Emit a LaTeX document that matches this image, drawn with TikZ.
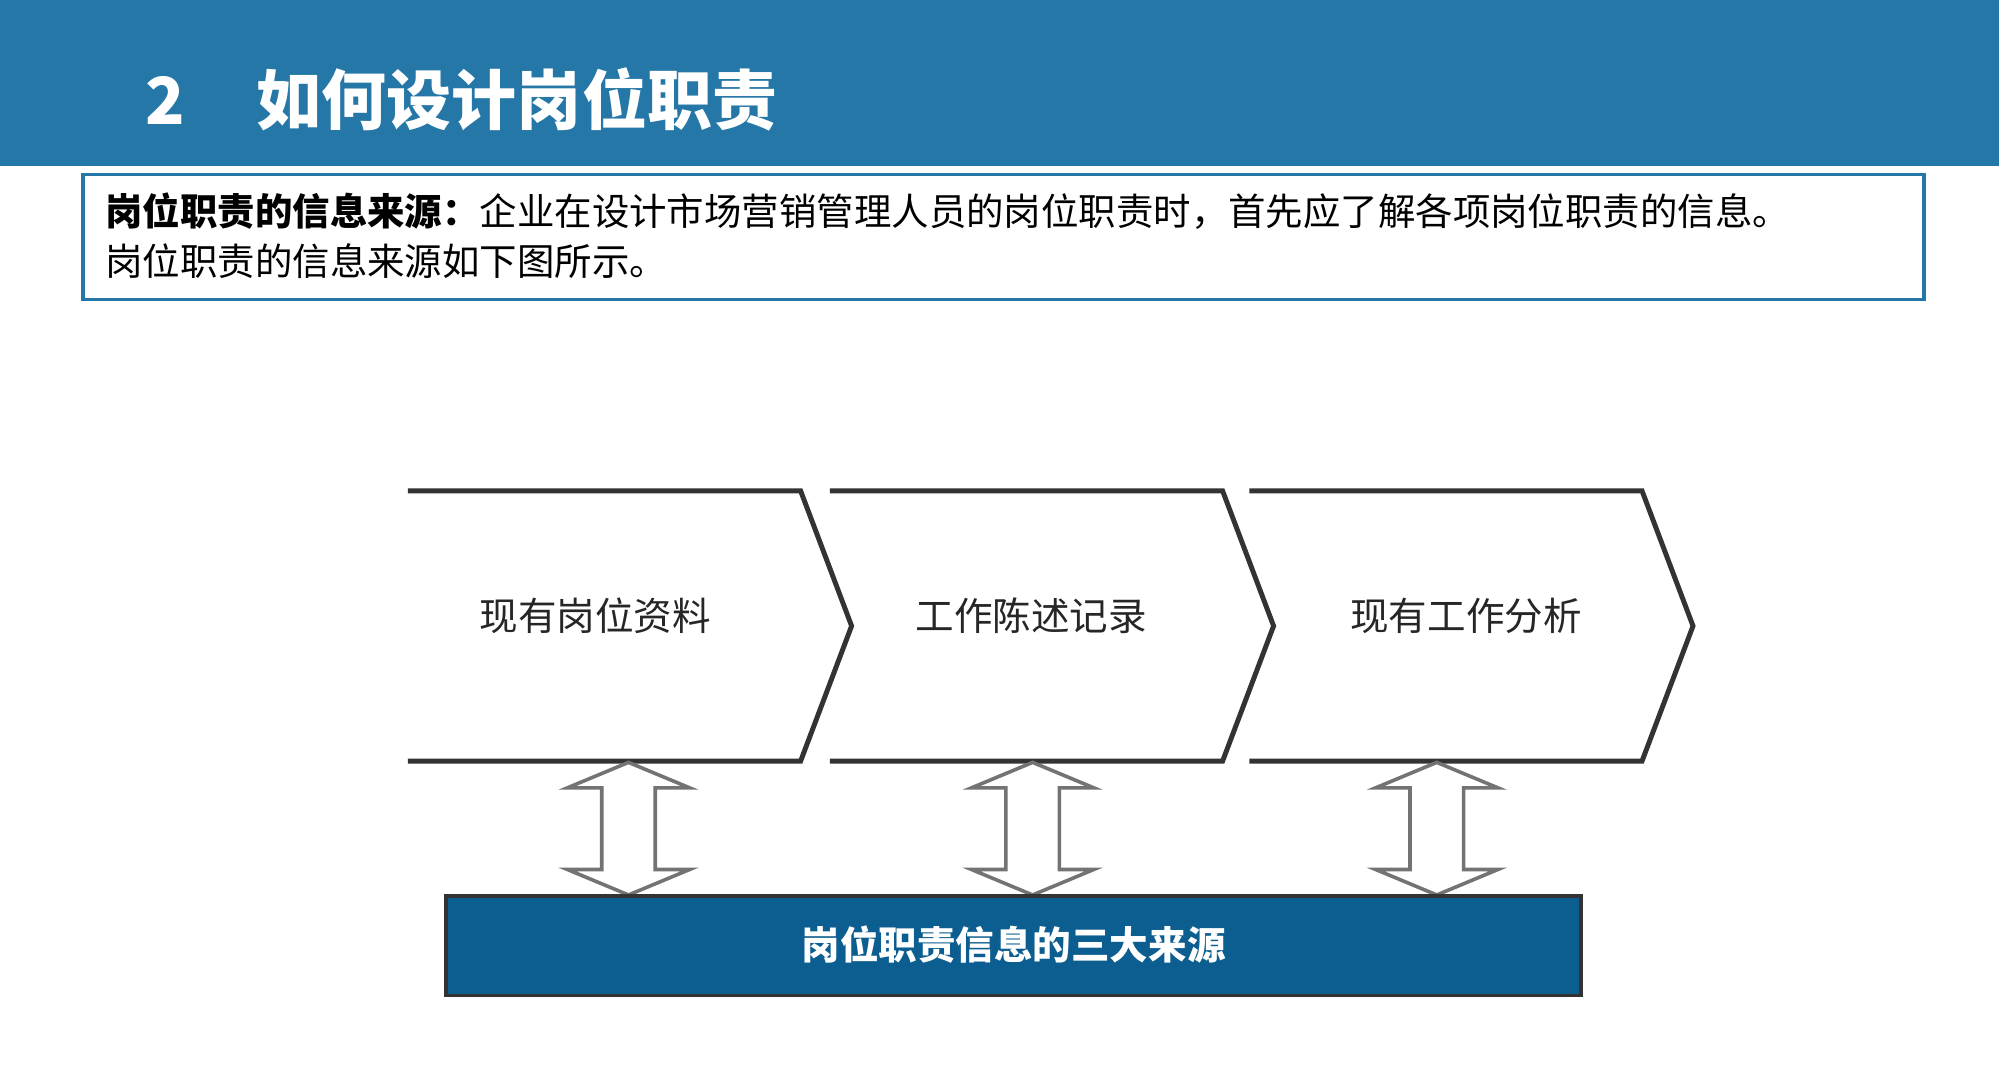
\documentclass[tikz,border=0pt]{standalone}
\usepackage{fontspec}
\setmainfont{Noto Sans CJK SC}
\begin{document}
\begin{tikzpicture}[x=0.01cm,y=-0.01cm,
  chev/.style={draw=black!80,line width=1.1pt,line join=miter},
  dbl/.style={draw=black!55,fill=white,line width=0.8pt},
  lbl/.style={font=\fontsize{8.6}{10}\selectfont,text=black!85}]
\useasboundingbox (0,0) rectangle (1568,848);
\fill[white] (0,0) rectangle (1568,848);
\fill[fill={rgb,255:red,36;green,119;blue,166}] (0,0) rectangle (1568,130);
\node[anchor=west,text=white,font=\fontsize{14.5}{16}\selectfont\bfseries] (title) at (102,78) {2\hspace{1.1em}如何设计岗位职责};
\draw[draw={rgb,255:red,36;green,119;blue,166},line width=0.8pt] (65,137) rectangle (1509,235);
\node[anchor=west,font=\fontsize{8.35}{10}\selectfont,inner sep=0pt] (l1) at (82,166) {\textbf{岗位职责的信息来源：}企业在设计市场营销管理人员的岗位职责时，首先应了解各项岗位职责的信息。};
\node[anchor=west,font=\fontsize{8.35}{10}\selectfont,inner sep=0pt] (l2) at (82,205) {岗位职责的信息来源如下图所示。};
\foreach \x/\t/\n/\o in {320/现有岗位资料/a/147,651/工作陈述记录/b/158,980/现有工作分析/c/170}{
  \draw[chev] (\x,385) -- (\x+308,385) -- (\x+348,491) -- (\x+308,597) -- (\x,597);
  \node[lbl] (\n) at (\x+\o,483) {\t};
}
\foreach \x in {493,810,1127}{
  \draw[dbl] (\x,598) -- (\x+48,618) -- (\x+21,618) -- (\x+21,682) -- (\x+48,682) -- (\x,702)
    -- (\x-48,682) -- (\x-21,682) -- (\x-21,618) -- (\x-48,618) -- cycle;
}
\draw[fill={rgb,255:red,11;green,94;blue,143},draw=black!80,line width=0.8pt] (350,703) rectangle (1240,781);
\node[text=white,font=\fontsize{8.6}{10}\selectfont\bfseries] (bar) at (795,741) {岗位职责信息的三大来源};
\end{tikzpicture}
\end{document}
